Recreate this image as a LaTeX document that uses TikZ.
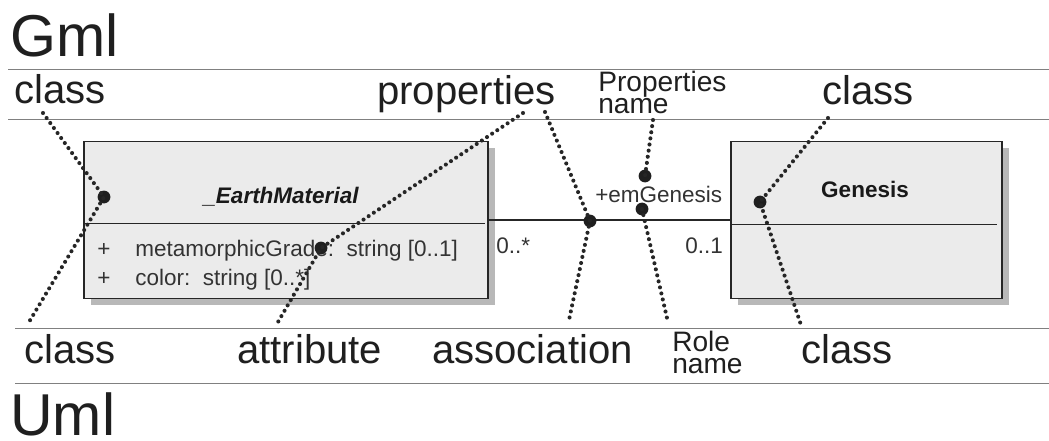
\documentclass[tikz,border=0pt]{standalone}
\usepackage{fontspec}
\setmainfont{Liberation Sans}
\usetikzlibrary{shadows}
\begin{document}
\begin{tikzpicture}[x=0.025cm,y=-0.025cm,
  rule/.style={draw=black!50,line width=0.6pt},
  big/.style={font=\fontsize{42}{42}\selectfont,inner sep=0pt,anchor=base west,text=black!88},
  lbl/.style={font=\fontsize{28.5}{30}\selectfont,inner sep=0pt,anchor=base west,text=black!88},
  small/.style={font=\fontsize{20}{15.5}\selectfont,inner sep=0pt,anchor=base west,align=left,text=black!88},
  txt/.style={font=\fontsize{16}{18}\selectfont,inner sep=0pt,anchor=base west,text=black!80},
  cls/.style={draw=black!85,line width=1.3pt,fill=black!8,minimum height=3.925cm,inner sep=0pt,
    drop shadow={shadow xshift=0.17cm,shadow yshift=-0.17cm,fill=black!28,opacity=1}},
  pin/.style={circle,fill=black!88,inner sep=0pt,minimum size=0.32cm},
  dots/.style={line width=2.9pt,line cap=round,dash pattern=on 0pt off 4.4pt,black!85}]
\useasboundingbox (0,0) rectangle (1049,440);
\draw[rule] (8,69) -- (1049,69) (8,119) -- (1049,119)
  (15,328) -- (1049,328) (15,383) -- (1049,383);
\node[big] (gml) at (10,57) {Gml};
\node[big] (uml) at (10,435) {Uml};
\node[lbl] (classTL) at (14,103) {class};
\node[lbl] (props) at (377,104) {properties};
\node[small] (propname) at (598,113) {Properties\\name};
\node[lbl] (classTR) at (822,104) {class};
\node[lbl] (classBL) at (24,363) {class};
\node[lbl] (attr) at (237,363) {attribute};
\node[lbl] (assoc) at (432,363) {association};
\node[small] (rolename) at (672,373) {Role\\name};
\node[lbl] (classBR) at (801,363) {class};
\node[cls,minimum width=10.1cm] (em) at (286,220) {};
\node[cls,minimum width=6.775cm] (gen) at (866.5,220) {};
\draw[line width=1.1pt,black!85] (em.north west) ++(0,83) -- ++(402,0)
  (gen.north west) ++(0,84) -- ++(267,0);
\draw[line width=1.1pt,black!85] (em) -- (gen);
\node[txt,anchor=base,font=\fontsize{16}{18}\selectfont\bfseries\itshape,text=black!90] (emname) at (281,203) {\_EarthMaterial};
\node[txt,anchor=base,font=\fontsize{16}{18}\selectfont\bfseries,text=black!90] (genname) at (865,197) {Genesis};
\node[txt] (plus1) at (97,256) {+};
\node[txt] (att1) at (135,256) {metamorphicGrade:~~string [0..1]};
\node[txt] (plus2) at (97,285) {+};
\node[txt] (att2) at (135,285) {color:~~string [0..*]};
\node[txt] (role) at (595,202) {+emGenesis};
\node[txt] (multA) at (496,253) {0..*};
\node[txt] (multB) at (685,253) {0..1};
\coordinate (c1) at (43,113);
\coordinate (c2) at (29,322);
\coordinate (c3) at (523,113);
\coordinate (c4) at (278,322);
\coordinate (c5) at (545,112);
\coordinate (c6) at (569,320);
\coordinate (c7) at (653,120);
\coordinate (c8) at (667,318);
\coordinate (c9) at (828,118);
\coordinate (c10) at (802,328);
\node[pin] (p1) at (104,197) {};
\node[pin] (p2) at (321,248) {};
\node[pin] (p3) at (590,221) {};
\node[pin] (p4) at (645,176) {};
\node[pin] (p5) at (642,209) {};
\node[pin] (p6) at (760,202) {};
\draw[dots] (c1) -- (p1.center) -- (c2);
\draw[dots] (c3) -- (p2.center) -- (c4);
\draw[dots] (c5) -- (p3.center) -- (c6);
\draw[dots] (c7) -- (p4.center);
\draw[dots] (p5.center) -- (c8);
\draw[dots] (c9) -- (p6.center) -- (c10);
\end{tikzpicture}
\end{document}
